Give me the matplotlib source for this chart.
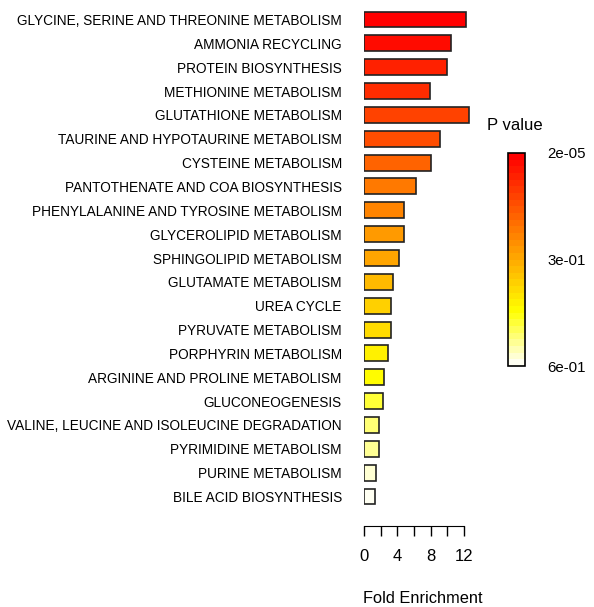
import matplotlib
matplotlib.use("Agg")
import matplotlib.pyplot as plt
import matplotlib.colors as mcolors
import matplotlib.colorbar as mcolorbar

plt.rcParams['font.family'] = ['Liberation Sans', 'DejaVu Sans']

pathways = [
    "GLYCINE, SERINE AND THREONINE METABOLISM",
    "AMMONIA RECYCLING",
    "PROTEIN BIOSYNTHESIS",
    "METHIONINE METABOLISM",
    "GLUTATHIONE METABOLISM",
    "TAURINE AND HYPOTAURINE METABOLISM",
    "CYSTEINE METABOLISM",
    "PANTOTHENATE AND COA BIOSYNTHESIS",
    "PHENYLALANINE AND TYROSINE METABOLISM",
    "GLYCEROLIPID METABOLISM",
    "SPHINGOLIPID METABOLISM",
    "GLUTAMATE METABOLISM",
    "UREA CYCLE",
    "PYRUVATE METABOLISM",
    "PORPHYRIN METABOLISM",
    "ARGININE AND PROLINE METABOLISM",
    "GLUCONEOGENESIS",
    "VALINE, LEUCINE AND ISOLEUCINE DEGRADATION",
    "PYRIMIDINE METABOLISM",
    "PURINE METABOLISM",
    "BILE ACID BIOSYNTHESIS",
]
fold = [12.2, 10.5, 10.0, 7.9, 12.6, 9.1, 8.0, 6.3, 4.85, 4.85, 4.2,
        3.5, 3.2, 3.2, 2.9, 2.45, 2.3, 1.75, 1.75, 1.4, 1.3]
pvals = [2e-05, 0.03, 0.06, 0.09, 0.12, 0.15, 0.18, 0.21, 0.24, 0.27, 0.30,
         0.33, 0.36, 0.39, 0.42, 0.45, 0.48, 0.51, 0.54, 0.57, 0.6]
xticks = [0, 2, 4, 6, 8, 10, 12]
xticklabels = ["0", "", "4", "", "8", "", "12"]
cbar_ticks = [2e-05, 0.3, 0.6]
cbar_labels = ["2e-05", "3e-01", "6e-01"]

W, H = 594, 607
fig = plt.figure(figsize=(W / 100, H / 100), dpi=100)

# heat-like palette: red -> yellow -> near white
cmap = mcolors.LinearSegmentedColormap.from_list(
    "heat", [(0.0, "#FF0000"), (0.75, "#FFFF00"), (1.0, "#FFFFF2")], N=32)
norm = mcolors.Normalize(vmin=2e-05, vmax=0.6)

# main bar axes (pixel placement)
x0, unit = 364, 8.33
top, step = 19.5 - 23.85 / 2, 23.85
n = len(pathways)
ax = fig.add_axes([x0 / W, 1 - (top + n * step) / H, 14 * unit / W, n * step / H])
ypos = list(range(n))
ax.barh(ypos, fold, height=0.67, color=[cmap(norm(p)) for p in pvals],
        edgecolor="#222222", linewidth=1.2)
ax.set_ylim(n - 0.5, -0.5)
ax.set_xlim(0, 14)
ax.set_yticks(ypos)
ax.set_yticklabels(pathways)
ax.tick_params(axis="y", length=0, pad=16, labelsize=9.8)
ax.set_xticks(xticks)
ax.set_xticklabels(xticklabels)
ax.tick_params(axis="x", length=7, width=1, pad=10, labelsize=12)
for s in ["top", "right", "left"]:
    ax.spines[s].set_visible(False)
ax.spines["bottom"].set_position(("outward", 12.5))
ax.spines["bottom"].set_bounds(0, 12)
ax.set_xlabel("Fold Enrichment", fontsize=11.8, labelpad=19)

# colour key
cax = fig.add_axes([508 / W, 1 - 366 / H, 17 / W, 213 / H])
cb = mcolorbar.ColorbarBase(cax, cmap=cmap, norm=norm, orientation="vertical")
cax.invert_yaxis()
cb.set_ticks(cbar_ticks)
cb.set_ticklabels(cbar_labels)
cax.tick_params(length=0, pad=16, labelsize=10.8)
cb.outline.set_linewidth(1.2)
fig.text(515 / W, 1 - 125 / H, "P value", fontsize=12, ha="center", va="center")

fig.savefig("out.png", dpi=100)
